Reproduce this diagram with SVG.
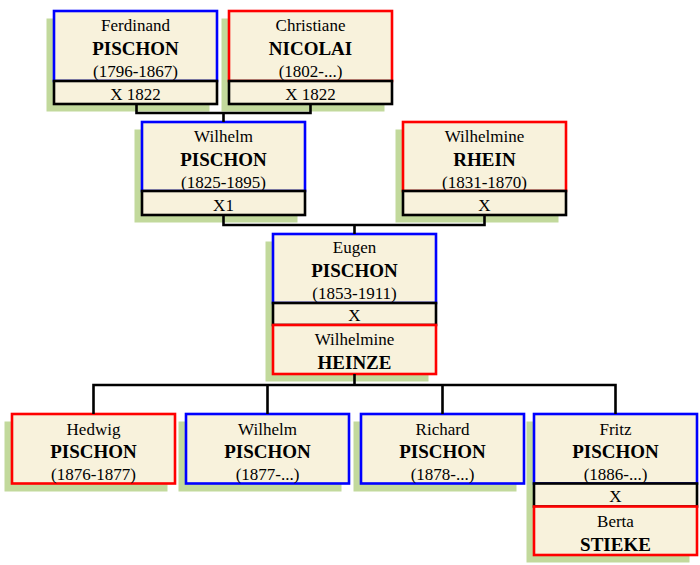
<svg xmlns="http://www.w3.org/2000/svg" width="700" height="565" viewBox="0 0 700 565">
<style>
.sh{fill:#c2d99c;stroke:none}
.m{fill:#f8f2dc;stroke:#0000ff;stroke-width:2.6}
.f{fill:#f8f2dc;stroke:#ff0000;stroke-width:2.6}
.x{fill:#f8f2dc;stroke:#000;stroke-width:2.6}
text{font-family:"Liberation Serif","Times New Roman",serif;text-anchor:middle;fill:#000}
.n{font-size:17px}
.b{font-size:19px;font-weight:bold}
.c{fill:none;stroke:#000;stroke-width:2.6}
</style>
<rect width="700" height="565" fill="#fff"/>
<g id="ferdinand">
<rect class="sh" x="46.5" y="18.5" width="163" height="93"/>
<rect class="m" x="54" y="11" width="163" height="70"/>
<rect class="x" x="54" y="81" width="163" height="23"/>
<text class="n" x="135.5" y="31">Ferdinand</text>
<text class="b" x="135.5" y="55">PISCHON</text>
<text class="n" x="135.5" y="77">(1796-1867)</text>
<text class="n" x="135.5" y="100">X 1822</text>
</g>
<g id="christiane">
<rect class="sh" x="221.5" y="18.5" width="163" height="93"/>
<rect class="f" x="229" y="11" width="163" height="70"/>
<rect class="x" x="229" y="81" width="163" height="23"/>
<text class="n" x="310.5" y="31">Christiane</text>
<text class="b" x="310.5" y="55">NICOLAI</text>
<text class="n" x="310.5" y="77">(1802-...)</text>
<text class="n" x="310.5" y="100">X 1822</text>
</g>
<g id="wilhelm">
<rect class="sh" x="134.5" y="129.5" width="163" height="93"/>
<rect class="m" x="142" y="122" width="163" height="69"/>
<rect class="x" x="142" y="191" width="163" height="24"/>
<text class="n" x="223.5" y="142">Wilhelm</text>
<text class="b" x="223.5" y="166">PISCHON</text>
<text class="n" x="223.5" y="188">(1825-1895)</text>
<text class="n" x="223.5" y="211">X1</text>
</g>
<g id="wilhelmine-rhein">
<rect class="sh" x="395.5" y="129.5" width="163" height="93"/>
<rect class="f" x="403" y="122" width="163" height="69"/>
<rect class="x" x="403" y="191" width="163" height="24"/>
<text class="n" x="484.5" y="142">Wilhelmine</text>
<text class="b" x="484.5" y="166">RHEIN</text>
<text class="n" x="484.5" y="188">(1831-1870)</text>
<text class="n" x="484.5" y="211">X</text>
</g>
<g id="eugen">
<rect class="sh" x="265.5" y="241.5" width="163" height="140"/>
<rect class="m" x="273" y="234" width="163" height="69"/>
<rect class="x" x="273" y="303" width="163" height="22"/>
<rect class="f" x="273" y="325" width="163" height="49"/>
<text class="n" x="354.5" y="253">Eugen</text>
<text class="b" x="354.5" y="277">PISCHON</text>
<text class="n" x="354.5" y="299">(1853-1911)</text>
<text class="n" x="354.5" y="321">X</text>
<text class="n" x="354.5" y="345">Wilhelmine</text>
<text class="b" x="354.5" y="368.5">HEINZE</text>
</g>
<g id="hedwig">
<rect class="sh" x="4.5" y="421.5" width="163" height="70"/>
<rect class="f" x="12" y="414" width="163" height="69.5"/>
<text class="n" x="93.5" y="435">Hedwig</text>
<text class="b" x="93.5" y="458">PISCHON</text>
<text class="n" x="93.5" y="479.5">(1876-1877)</text>
</g>
<g id="wilhelm-jr">
<rect class="sh" x="178.5" y="421.5" width="163" height="70"/>
<rect class="m" x="186" y="414" width="163" height="69.5"/>
<text class="n" x="267.5" y="435">Wilhelm</text>
<text class="b" x="267.5" y="458">PISCHON</text>
<text class="n" x="267.5" y="479.5">(1877-...)</text>
</g>
<g id="richard">
<rect class="sh" x="353.5" y="421.5" width="163" height="70"/>
<rect class="m" x="361" y="414" width="163" height="69.5"/>
<text class="n" x="442.5" y="435">Richard</text>
<text class="b" x="442.5" y="458">PISCHON</text>
<text class="n" x="442.5" y="479.5">(1878-...)</text>
</g>
<g id="fritz">
<rect class="sh" x="526.5" y="421.5" width="163" height="141"/>
<rect class="m" x="534" y="414" width="163" height="69.5"/>
<rect class="x" x="534" y="483.5" width="163" height="23"/>
<rect class="f" x="534" y="506.5" width="163" height="48.5"/>
<text class="n" x="615.5" y="435">Fritz</text>
<text class="b" x="615.5" y="458">PISCHON</text>
<text class="n" x="615.5" y="479.5">(1886-...)</text>
<text class="n" x="615.5" y="502">X</text>
<text class="n" x="615.5" y="527">Berta</text>
<text class="b" x="615.5" y="550.5">STIEKE</text>
</g>
<g id="connectors">
<path class="c" d="M136.5 104V113H310.5V104M223.5 113V122"/>
<path class="c" d="M223.5 215V225H484.5V215M354.5 225V234"/>
<path class="c" d="M354.5 374V385M93.5 414V385H615.5V414M267.5 385V414M442.5 385V414"/>
</g>
</svg>
